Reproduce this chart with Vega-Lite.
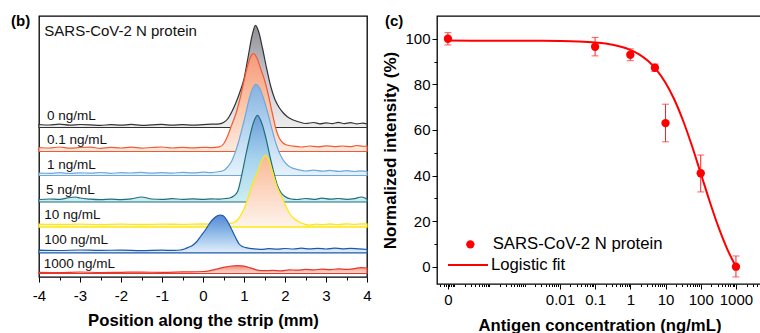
{
  "$schema": "https://vega.github.io/schema/vega-lite/v6.json",
  "padding": {"left": 10, "top": 13, "right": 0, "bottom": 0},
  "spacing": 9,
  "config": {
    "font": "Liberation Sans",
    "view": {"stroke": "#000", "strokeWidth": 1.3},
    "axis": {"grid": false, "labelColor": "#000", "tickColor": "#000", "titleColor": "#000", "domain": false, "labelFlush": false, "labelOverlap": false}
  },
  "datasets": {
    "traces": [
      {"s":"0","x":-4,"v":152.5},{"s":"0","x":-3.75,"v":152},{"s":"0","x":-3.5,"v":152.8},{"s":"0","x":-3.25,"v":151.8},{"s":"0","x":-3,"v":152.5},{"s":"0","x":-2.75,"v":152.2},{"s":"0","x":-2.5,"v":151.6},{"s":"0","x":-2.25,"v":152.4},{"s":"0","x":-2,"v":151.8},{"s":"0","x":-1.75,"v":152.6},{"s":"0","x":-1.5,"v":151.7},{"s":"0","x":-1.25,"v":152.1},{"s":"0","x":-1,"v":152.6},{"s":"0","x":-0.75,"v":151.8},{"s":"0","x":-0.5,"v":152.3},{"s":"0","x":-0.25,"v":151.9},{"s":"0","x":0,"v":152.4},{"s":"0","x":0.2,"v":152.8},{"s":"0","x":0.4,"v":153.2},{"s":"0","x":0.5,"v":154.5},{"s":"0","x":0.6,"v":158},{"s":"0","x":0.7,"v":165},{"s":"0","x":0.8,"v":174},{"s":"0","x":0.9,"v":185},{"s":"0","x":1.0,"v":198},{"s":"0","x":1.1,"v":220},{"s":"0","x":1.2,"v":242},{"s":"0","x":1.28,"v":251.7},{"s":"0","x":1.36,"v":245},{"s":"0","x":1.45,"v":229},{"s":"0","x":1.55,"v":209},{"s":"0","x":1.65,"v":191},{"s":"0","x":1.75,"v":178},{"s":"0","x":1.85,"v":170},{"s":"0","x":1.95,"v":164.5},{"s":"0","x":2.05,"v":160.5},{"s":"0","x":2.2,"v":157},{"s":"0","x":2.35,"v":155},{"s":"0","x":2.5,"v":153.5},{"s":"0","x":2.7,"v":154.5},{"s":"0","x":2.85,"v":153.2},{"s":"0","x":3.0,"v":154.2},{"s":"0","x":3.15,"v":153.3},{"s":"0","x":3.3,"v":154.6},{"s":"0","x":3.45,"v":153.4},{"s":"0","x":3.6,"v":154.3},{"s":"0","x":3.75,"v":153.2},{"s":"0","x":3.9,"v":153.8},{"s":"0","x":4,"v":153},
      {"s":"0.1","x":-4,"v":129.5},{"s":"0.1","x":-3.75,"v":129},{"s":"0.1","x":-3.5,"v":130},{"s":"0.1","x":-3.25,"v":128.8},{"s":"0.1","x":-3,"v":129.5},{"s":"0.1","x":-2.75,"v":129.8},{"s":"0.1","x":-2.5,"v":128.7},{"s":"0.1","x":-2.25,"v":129.6},{"s":"0.1","x":-2,"v":129},{"s":"0.1","x":-1.75,"v":129.8},{"s":"0.1","x":-1.5,"v":128.9},{"s":"0.1","x":-1.25,"v":129.5},{"s":"0.1","x":-1,"v":130},{"s":"0.1","x":-0.75,"v":129},{"s":"0.1","x":-0.5,"v":129.6},{"s":"0.1","x":-0.25,"v":129.1},{"s":"0.1","x":0,"v":129.7},{"s":"0.1","x":0.2,"v":129.4},{"s":"0.1","x":0.4,"v":130.2},{"s":"0.1","x":0.5,"v":133},{"s":"0.1","x":0.6,"v":141},{"s":"0.1","x":0.7,"v":152},{"s":"0.1","x":0.8,"v":163},{"s":"0.1","x":0.9,"v":178},{"s":"0.1","x":1.0,"v":196},{"s":"0.1","x":1.08,"v":210},{"s":"0.1","x":1.15,"v":219},{"s":"0.1","x":1.23,"v":223.3},{"s":"0.1","x":1.31,"v":219.5},{"s":"0.1","x":1.4,"v":209},{"s":"0.1","x":1.5,"v":197},{"s":"0.1","x":1.6,"v":181},{"s":"0.1","x":1.7,"v":162},{"s":"0.1","x":1.78,"v":148},{"s":"0.1","x":1.86,"v":139},{"s":"0.1","x":1.95,"v":134},{"s":"0.1","x":2.05,"v":132},{"s":"0.1","x":2.2,"v":130.8},{"s":"0.1","x":2.4,"v":130},{"s":"0.1","x":2.6,"v":131},{"s":"0.1","x":2.8,"v":130.2},{"s":"0.1","x":3.0,"v":131.2},{"s":"0.1","x":3.2,"v":130.4},{"s":"0.1","x":3.4,"v":131},{"s":"0.1","x":3.6,"v":130.3},{"s":"0.1","x":3.75,"v":131.5},{"s":"0.1","x":3.9,"v":130.6},{"s":"0.1","x":4,"v":131},
      {"s":"1","x":-4,"v":104},{"s":"1","x":-3.75,"v":103.6},{"s":"1","x":-3.5,"v":104.3},{"s":"1","x":-3.25,"v":103.5},{"s":"1","x":-3,"v":104.2},{"s":"1","x":-2.75,"v":103.8},{"s":"1","x":-2.5,"v":104.5},{"s":"1","x":-2.25,"v":103.7},{"s":"1","x":-2,"v":104.3},{"s":"1","x":-1.75,"v":104},{"s":"1","x":-1.5,"v":104.6},{"s":"1","x":-1.25,"v":103.8},{"s":"1","x":-1,"v":104.4},{"s":"1","x":-0.75,"v":103.9},{"s":"1","x":-0.5,"v":104.6},{"s":"1","x":-0.25,"v":104.1},{"s":"1","x":0,"v":104.8},{"s":"1","x":0.2,"v":104.4},{"s":"1","x":0.4,"v":105.5},{"s":"1","x":0.5,"v":106.5},{"s":"1","x":0.6,"v":110},{"s":"1","x":0.7,"v":116},{"s":"1","x":0.78,"v":124},{"s":"1","x":0.86,"v":134},{"s":"1","x":0.95,"v":148},{"s":"1","x":1.03,"v":161},{"s":"1","x":1.12,"v":177},{"s":"1","x":1.2,"v":187.5},{"s":"1","x":1.29,"v":192.7},{"s":"1","x":1.38,"v":189},{"s":"1","x":1.48,"v":178},{"s":"1","x":1.6,"v":161},{"s":"1","x":1.7,"v":145},{"s":"1","x":1.8,"v":131},{"s":"1","x":1.9,"v":121},{"s":"1","x":2.02,"v":113.5},{"s":"1","x":2.15,"v":109.5},{"s":"1","x":2.3,"v":107.5},{"s":"1","x":2.5,"v":106},{"s":"1","x":2.7,"v":106.8},{"s":"1","x":2.9,"v":105.8},{"s":"1","x":3.1,"v":106.6},{"s":"1","x":3.3,"v":105.6},{"s":"1","x":3.5,"v":106.3},{"s":"1","x":3.7,"v":105.5},{"s":"1","x":3.85,"v":106.2},{"s":"1","x":4,"v":105.5},
      {"s":"5","x":-4,"v":77.5},{"s":"5","x":-3.75,"v":78},{"s":"5","x":-3.5,"v":77.6},{"s":"5","x":-3.25,"v":79.5},{"s":"5","x":-3.1,"v":80},{"s":"5","x":-3,"v":79},{"s":"5","x":-2.75,"v":77.8},{"s":"5","x":-2.5,"v":77.3},{"s":"5","x":-2.25,"v":77.9},{"s":"5","x":-2,"v":77.4},{"s":"5","x":-1.75,"v":78.2},{"s":"5","x":-1.5,"v":80},{"s":"5","x":-1.25,"v":78},{"s":"5","x":-1,"v":77.6},{"s":"5","x":-0.75,"v":78.3},{"s":"5","x":-0.5,"v":77.7},{"s":"5","x":-0.25,"v":78.1},{"s":"5","x":0,"v":77.6},{"s":"5","x":0.2,"v":78.2},{"s":"5","x":0.4,"v":77.8},{"s":"5","x":0.55,"v":78.5},{"s":"5","x":0.65,"v":79},{"s":"5","x":0.75,"v":81},{"s":"5","x":0.85,"v":86},{"s":"5","x":0.95,"v":103},{"s":"5","x":1.05,"v":123},{"s":"5","x":1.13,"v":138},{"s":"5","x":1.22,"v":153},{"s":"5","x":1.33,"v":161.7},{"s":"5","x":1.44,"v":153},{"s":"5","x":1.54,"v":138},{"s":"5","x":1.63,"v":121},{"s":"5","x":1.73,"v":104},{"s":"5","x":1.82,"v":91},{"s":"5","x":1.9,"v":84.5},{"s":"5","x":2.0,"v":80.5},{"s":"5","x":2.15,"v":78},{"s":"5","x":2.3,"v":77.5},{"s":"5","x":2.5,"v":78.5},{"s":"5","x":2.7,"v":77.6},{"s":"5","x":2.9,"v":78.8},{"s":"5","x":3.1,"v":77.8},{"s":"5","x":3.3,"v":78.5},{"s":"5","x":3.5,"v":77.7},{"s":"5","x":3.7,"v":78.3},{"s":"5","x":3.85,"v":80},{"s":"5","x":3.95,"v":79},{"s":"5","x":4,"v":77.5},
      {"s":"10","x":-4,"v":52.8},{"s":"10","x":-3.5,"v":52.5},{"s":"10","x":-3,"v":52.9},{"s":"10","x":-2.5,"v":52.4},{"s":"10","x":-2,"v":52.8},{"s":"10","x":-1.5,"v":52.5},{"s":"10","x":-1,"v":52.9},{"s":"10","x":-0.5,"v":52.6},{"s":"10","x":0,"v":53},{"s":"10","x":0.3,"v":52.8},{"s":"10","x":0.6,"v":53.2},{"s":"10","x":0.7,"v":53.8},{"s":"10","x":0.78,"v":55},{"s":"10","x":0.85,"v":57.5},{"s":"10","x":0.95,"v":64},{"s":"10","x":1.03,"v":71},{"s":"10","x":1.13,"v":83},{"s":"10","x":1.23,"v":95},{"s":"10","x":1.33,"v":104.3},{"s":"10","x":1.42,"v":115},{"s":"10","x":1.52,"v":121.7},{"s":"10","x":1.6,"v":117.5},{"s":"10","x":1.7,"v":104.5},{"s":"10","x":1.8,"v":91},{"s":"10","x":1.92,"v":80},{"s":"10","x":2.02,"v":71},{"s":"10","x":2.12,"v":63},{"s":"10","x":2.22,"v":58.5},{"s":"10","x":2.35,"v":55},{"s":"10","x":2.5,"v":52.5},{"s":"10","x":2.6,"v":51.8},{"s":"10","x":2.75,"v":52.8},{"s":"10","x":2.9,"v":52.3},{"s":"10","x":3.1,"v":53},{"s":"10","x":3.3,"v":52.4},{"s":"10","x":3.5,"v":53.1},{"s":"10","x":3.7,"v":52.6},{"s":"10","x":3.85,"v":53.2},{"s":"10","x":4,"v":53},
      {"s":"100","x":-4,"v":26.8},{"s":"100","x":-3.5,"v":26.5},{"s":"100","x":-3,"v":27},{"s":"100","x":-2.5,"v":26.6},{"s":"100","x":-2,"v":26.9},{"s":"100","x":-1.5,"v":26.4},{"s":"100","x":-1,"v":26.8},{"s":"100","x":-0.7,"v":26.6},{"s":"100","x":-0.55,"v":27},{"s":"100","x":-0.45,"v":28},{"s":"100","x":-0.35,"v":29.8},{"s":"100","x":-0.25,"v":31.8},{"s":"100","x":-0.15,"v":35.5},{"s":"100","x":-0.05,"v":41},{"s":"100","x":0.05,"v":46.5},{"s":"100","x":0.15,"v":53},{"s":"100","x":0.25,"v":58},{"s":"100","x":0.35,"v":61.2},{"s":"100","x":0.42,"v":62},{"s":"100","x":0.5,"v":61},{"s":"100","x":0.6,"v":55.5},{"s":"100","x":0.7,"v":47.5},{"s":"100","x":0.8,"v":39},{"s":"100","x":0.88,"v":33},{"s":"100","x":0.96,"v":30.5},{"s":"100","x":1.05,"v":29.3},{"s":"100","x":1.2,"v":28.3},{"s":"100","x":1.4,"v":27.6},{"s":"100","x":1.6,"v":28.3},{"s":"100","x":1.8,"v":27.8},{"s":"100","x":2.0,"v":28.5},{"s":"100","x":2.2,"v":28},{"s":"100","x":2.4,"v":28.8},{"s":"100","x":2.6,"v":28.1},{"s":"100","x":2.8,"v":28.6},{"s":"100","x":3.0,"v":28},{"s":"100","x":3.2,"v":28.9},{"s":"100","x":3.4,"v":28.2},{"s":"100","x":3.6,"v":28.7},{"s":"100","x":3.8,"v":28.1},{"s":"100","x":4,"v":27.5},
      {"s":"1000","x":-4,"v":4.6},{"s":"1000","x":-3.5,"v":4.4},{"s":"1000","x":-3,"v":5.0},{"s":"1000","x":-2.5,"v":4.5},{"s":"1000","x":-2,"v":4.7},{"s":"1000","x":-1.5,"v":4.9},{"s":"1000","x":-1,"v":4.6},{"s":"1000","x":-0.5,"v":5.1},{"s":"1000","x":0,"v":5.5},{"s":"1000","x":0.15,"v":6.2},{"s":"1000","x":0.3,"v":7.6},{"s":"1000","x":0.5,"v":9.6},{"s":"1000","x":0.7,"v":11},{"s":"1000","x":0.85,"v":11.3},{"s":"1000","x":1.0,"v":10.8},{"s":"1000","x":1.15,"v":9.2},{"s":"1000","x":1.3,"v":7.2},{"s":"1000","x":1.5,"v":6.3},{"s":"1000","x":1.7,"v":6.6},{"s":"1000","x":1.9,"v":6.2},{"s":"1000","x":2.1,"v":7.2},{"s":"1000","x":2.3,"v":6.8},{"s":"1000","x":2.5,"v":7.6},{"s":"1000","x":2.7,"v":7.1},{"s":"1000","x":2.9,"v":7.9},{"s":"1000","x":3.1,"v":7.4},{"s":"1000","x":3.3,"v":8.1},{"s":"1000","x":3.5,"v":7.6},{"s":"1000","x":3.7,"v":8.4},{"s":"1000","x":3.85,"v":9.3},{"s":"1000","x":4,"v":9}
    ],
    "labels": [
      {"x":-3.805,"v":157,"t":"0 ng/mL"},
      {"x":-3.805,"v":132.7,"t":"0.1 ng/mL"},
      {"x":-3.805,"v":107.7,"t":"1 ng/mL"},
      {"x":-3.83,"v":83.3,"t":"5 ng/mL"},
      {"x":-3.87,"v":57.7,"t":"10 ng/mL"},
      {"x":-3.87,"v":32.7,"t":"100 ng/mL"},
      {"x":-3.885,"v":9.3,"t":"1000 ng/mL"}
    ],
    "heading": [{"x":-3.87,"v":241,"t":"SARS-CoV-2 N protein"}],
    "curve": [
      {"lx":-5.18,"y":99.2,"series":"Logistic fit"},{"lx":-4.5,"y":99.19,"series":"Logistic fit"},{"lx":-4,"y":99.19,"series":"Logistic fit"},{"lx":-3,"y":99.17,"series":"Logistic fit"},{"lx":-2.5,"y":99.12,"series":"Logistic fit"},{"lx":-2,"y":99.04,"series":"Logistic fit"},{"lx":-1.5,"y":98.85,"series":"Logistic fit"},{"lx":-1,"y":98.4,"series":"Logistic fit"},{"lx":-0.5,"y":97.38,"series":"Logistic fit"},{"lx":0,"y":95.14,"series":"Logistic fit"},{"lx":0.25,"y":93.17,"series":"Logistic fit"},{"lx":0.5,"y":90.32,"series":"Logistic fit"},{"lx":0.75,"y":86.29,"series":"Logistic fit"},{"lx":1,"y":80.72,"series":"Logistic fit"},{"lx":1.25,"y":73.34,"series":"Logistic fit"},{"lx":1.5,"y":64.04,"series":"Logistic fit"},{"lx":1.75,"y":53.05,"series":"Logistic fit"},{"lx":2,"y":41.0,"series":"Logistic fit"},{"lx":2.25,"y":28.84,"series":"Logistic fit"},{"lx":2.5,"y":17.54,"series":"Logistic fit"},{"lx":2.75,"y":7.82,"series":"Logistic fit"},{"lx":3,"y":0.0,"series":"Logistic fit"}
    ],
    "points": [
      {"lx":-5.18,"y":100,"lo":97.3,"hi":102.7,"series":"SARS-CoV-2 N protein"},
      {"lx":-1,"y":96.5,"lo":92.5,"hi":100.6,"series":"SARS-CoV-2 N protein"},
      {"lx":0,"y":93,"lo":90.4,"hi":95.6,"series":"SARS-CoV-2 N protein"},
      {"lx":0.699,"y":87.3,"lo":85.7,"hi":88.9,"series":"SARS-CoV-2 N protein"},
      {"lx":1,"y":63,"lo":54.8,"hi":71.3,"series":"SARS-CoV-2 N protein"},
      {"lx":2,"y":41,"lo":32.8,"hi":49,"series":"SARS-CoV-2 N protein"},
      {"lx":3,"y":0,"lo":-4.5,"hi":4.7,"series":"SARS-CoV-2 N protein"}
    ]
  },
  "hconcat": [
    {
      "width": 328,
      "height": 261,
      "title": {"text": "(b)", "anchor": "start", "frame": "group", "orient": "top", "dx": -28, "offset": -13, "baseline": "top", "fontSize": 15, "fontWeight": "bold", "color": "#000"},
      "data": {"name": "traces"},
      "encoding": {
        "x": {"field": "x", "type": "quantitative", "scale": {"domain": [-4, 4], "nice": false, "zero": false},
          "axis": {"title": "Position along the strip (mm)", "values": [-4,-3.5,-3,-2.5,-2,-1.5,-1,-0.5,0,0.5,1,1.5,2,2.5,3,3.5,4],
            "labelExpr": "datum.value == round(datum.value) ? (datum.value < 0 ? '-' + abs(datum.value) : '' + datum.value) : ''",
            "tickSize": {"condition": {"test": "datum.value == round(datum.value)", "value": 5}, "value": 3},
            "labelFontSize": 15, "labelPadding": 6, "titleFontSize": 16.7, "titleFontWeight": "bold", "titlePadding": 9}},
        "y": {"field": "v", "type": "quantitative", "scale": {"domain": [0, 261], "nice": false, "zero": false}, "axis": null}
      },
      "layer": [
        {"transform": [{"filter": "datum.s == '0'"}], "mark": {"type": "area", "interpolate": "monotone", "stroke": "#333333", "strokeWidth": 1.2,
          "fill": {"gradient": "linear", "x1": 0, "y1": 0, "x2": 0, "y2": 1, "stops": [{"offset": 0, "color": "#8f8f8f"}, {"offset": 0.5, "color": "#c9c7d3"}, {"offset": 1, "color": "#ededed"}]}},
          "encoding": {"y2": {"datum": 149.5}}},
        {"transform": [{"filter": "datum.s == '0.1'"}], "mark": {"type": "area", "interpolate": "monotone", "stroke": "#f25a32", "strokeWidth": 1.2,
          "fill": {"gradient": "linear", "x1": 0, "y1": 0, "x2": 0, "y2": 1, "stops": [{"offset": 0, "color": "#f6997a"}, {"offset": 0.5, "color": "#fbc4a6"}, {"offset": 1, "color": "#fde9df"}]}},
          "encoding": {"y2": {"datum": 125.5}}},
        {"transform": [{"filter": "datum.s == '1'"}], "mark": {"type": "area", "interpolate": "monotone", "stroke": "#6fa8dc", "strokeWidth": 1.2,
          "fill": {"gradient": "linear", "x1": 0, "y1": 0, "x2": 0, "y2": 1, "stops": [{"offset": 0, "color": "#86b2e0"}, {"offset": 0.5, "color": "#b7d6f0"}, {"offset": 1, "color": "#e5f2fb"}]}},
          "encoding": {"y2": {"datum": 101.5}}},
        {"transform": [{"filter": "datum.s == '5'"}], "mark": {"type": "area", "interpolate": "monotone", "stroke": "#1f6f7f", "strokeWidth": 1.2,
          "fill": {"gradient": "linear", "x1": 0, "y1": 0, "x2": 0, "y2": 1, "stops": [{"offset": 0, "color": "#6c9ed8"}, {"offset": 0.5, "color": "#a8d3ee"}, {"offset": 1, "color": "#cdeef0"}]}},
          "encoding": {"y2": {"datum": 75}}},
        {"transform": [{"filter": "datum.s == '10'"}], "mark": {"type": "area", "interpolate": "monotone", "stroke": "#fde910", "strokeWidth": 1.3,
          "fill": {"gradient": "linear", "x1": 0, "y1": 0, "x2": 0, "y2": 1, "stops": [{"offset": 0, "color": "#f8b995"}, {"offset": 0.5, "color": "#fcd6c0"}, {"offset": 1, "color": "#fef4ec"}]}},
          "encoding": {"y2": {"datum": 50}}},
        {"transform": [{"filter": "datum.s == '100'"}], "mark": {"type": "area", "interpolate": "monotone", "stroke": "#1c58a8", "strokeWidth": 1.2,
          "fill": {"gradient": "linear", "x1": 0, "y1": 0, "x2": 0, "y2": 1, "stops": [{"offset": 0, "color": "#5189d3"}, {"offset": 0.5, "color": "#93bde9"}, {"offset": 1, "color": "#e3effc"}]}},
          "encoding": {"y2": {"datum": 24.2}}},
        {"transform": [{"filter": "datum.s == '1000'"}], "mark": {"type": "area", "interpolate": "monotone", "stroke": "#e8362b", "strokeWidth": 1.2,
          "fill": {"gradient": "linear", "x1": 0, "y1": 0, "x2": 0, "y2": 1, "stops": [{"offset": 0, "color": "#f08a72"}, {"offset": 1, "color": "#fbe1d9"}]}},
          "encoding": {"y2": {"datum": 3.5}}},
        {"data": {"name": "labels"}, "mark": {"type": "text", "align": "left", "baseline": "alphabetic", "fontSize": 13.5, "color": "#111"},
          "encoding": {"text": {"field": "t"}}},
        {"data": {"name": "heading"}, "mark": {"type": "text", "align": "left", "baseline": "alphabetic", "fontSize": 15, "color": "#111"},
          "encoding": {"text": {"field": "t"}}}
      ]
    },
    {
      "width": 325,
      "height": 268,
      "title": {"text": "(c)", "anchor": "start", "frame": "group", "orient": "top", "dx": -52, "offset": -13, "baseline": "top", "fontSize": 15, "fontWeight": "bold", "color": "#000"},
      "encoding": {
        "x": {"field": "lx", "type": "quantitative", "title": "Antigen concentration (ng/mL)", "scale": {"domain": [-5.49, 3.74], "nice": false, "zero": false},
          "axis": {"values": [-5.18,-5.398,-5.301,-5.222,-5.155,-5.097,-5.046,-5,-4.699,-4.523,-4.398,-4.301,-4.222,-4.155,-4.097,-4.046,-4,-3.699,-3.523,-3.398,-3.301,-3.222,-3.155,-3.097,-3.046,-3,-2.699,-2.523,-2.398,-2.301,-2.222,-2.155,-2.097,-2.046,-2,-1.699,-1.523,-1.398,-1.301,-1.222,-1.155,-1.097,-1.046,-1,-0.699,-0.523,-0.398,-0.301,-0.222,-0.155,-0.097,-0.046,0,0.301,0.477,0.602,0.699,0.778,0.845,0.903,0.954,1,1.301,1.477,1.602,1.699,1.778,1.845,1.903,1.954,2,2.301,2.477,2.602,2.699,2.778,2.845,2.903,2.954,3,3.301,3.477,3.602,3.699],
            "labelExpr": "datum.value == -5.18 ? '0' : datum.value == -2 ? '0.01' : datum.value == -1 ? '0.1' : datum.value == 0 ? '1' : datum.value == 1 ? '10' : datum.value == 2 ? '100' : datum.value == 3 ? '1000' : ''",
            "tickSize": {"condition": {"test": "datum.value == -5.18 || (datum.value >= -2 && datum.value == round(datum.value))", "value": 5}, "value": 2.5},
            "labelFontSize": 15, "labelPadding": 3, "titleFontSize": 16.7, "titleFontWeight": "bold", "titlePadding": 10}},
        "y": {"field": "y", "type": "quantitative", "title": "Normalized intensity (%)", "scale": {"domain": [-7.6, 110], "nice": false, "zero": false},
          "axis": {"values": [0,10,20,30,40,50,60,70,80,90,100],
            "labelExpr": "datum.value % 20 == 0 ? datum.label : ''",
            "tickSize": {"condition": {"test": "datum.value % 20 == 0", "value": 5}, "value": 3},
            "labelFontSize": 15, "labelPadding": 2, "titleFontSize": 17, "titleFontWeight": "bold", "titlePadding": 5}}
      },
      "layer": [
        {"data": {"name": "curve"}, "mark": {"type": "line", "interpolate": "monotone", "strokeWidth": 2},
          "encoding": {"color": {"field": "series", "type": "nominal", "scale": {"domain": ["Logistic fit"], "range": ["#ff0000"]},
            "legend": {"title": null, "orient": "none", "legendX": 408, "legendY": 228, "padding": 0, "symbolType": "stroke", "symbolSize": 1600, "symbolStrokeWidth": 2, "labelFontSize": 16.7, "labelColor": "#000", "labelOffset": 2, "labelLimit": 400}}}},
        {"data": {"name": "points"}, "mark": {"type": "rule", "color": "#ff2020", "strokeWidth": 1},
          "encoding": {"y": {"field": "lo", "type": "quantitative", "title": "Normalized intensity (%)"}, "y2": {"field": "hi"}}},
        {"data": {"name": "points"}, "mark": {"type": "tick", "orient": "horizontal", "color": "#ff2020", "size": 7, "thickness": 1},
          "encoding": {"y": {"field": "lo", "type": "quantitative", "title": "Normalized intensity (%)"}}},
        {"data": {"name": "points"}, "mark": {"type": "tick", "orient": "horizontal", "color": "#ff2020", "size": 7, "thickness": 1},
          "encoding": {"y": {"field": "hi", "type": "quantitative", "title": "Normalized intensity (%)"}}},
        {"data": {"name": "points"}, "mark": {"type": "point", "filled": true, "color": "#ff0000", "opacity": 1, "size": 70},
          "encoding": {"shape": {"field": "series", "type": "nominal", "scale": {"domain": ["SARS-CoV-2 N protein"], "range": ["circle"]},
            "legend": {"title": null, "orient": "none", "legendX": 423, "legendY": 220, "padding": 0, "symbolSize": 70, "symbolFillColor": "#ff0000", "symbolStrokeWidth": 0, "symbolOpacity": 1, "labelFontSize": 16.7, "labelColor": "#000", "labelOffset": 14, "labelLimit": 400}}}}
      ]
    }
  ]
}
